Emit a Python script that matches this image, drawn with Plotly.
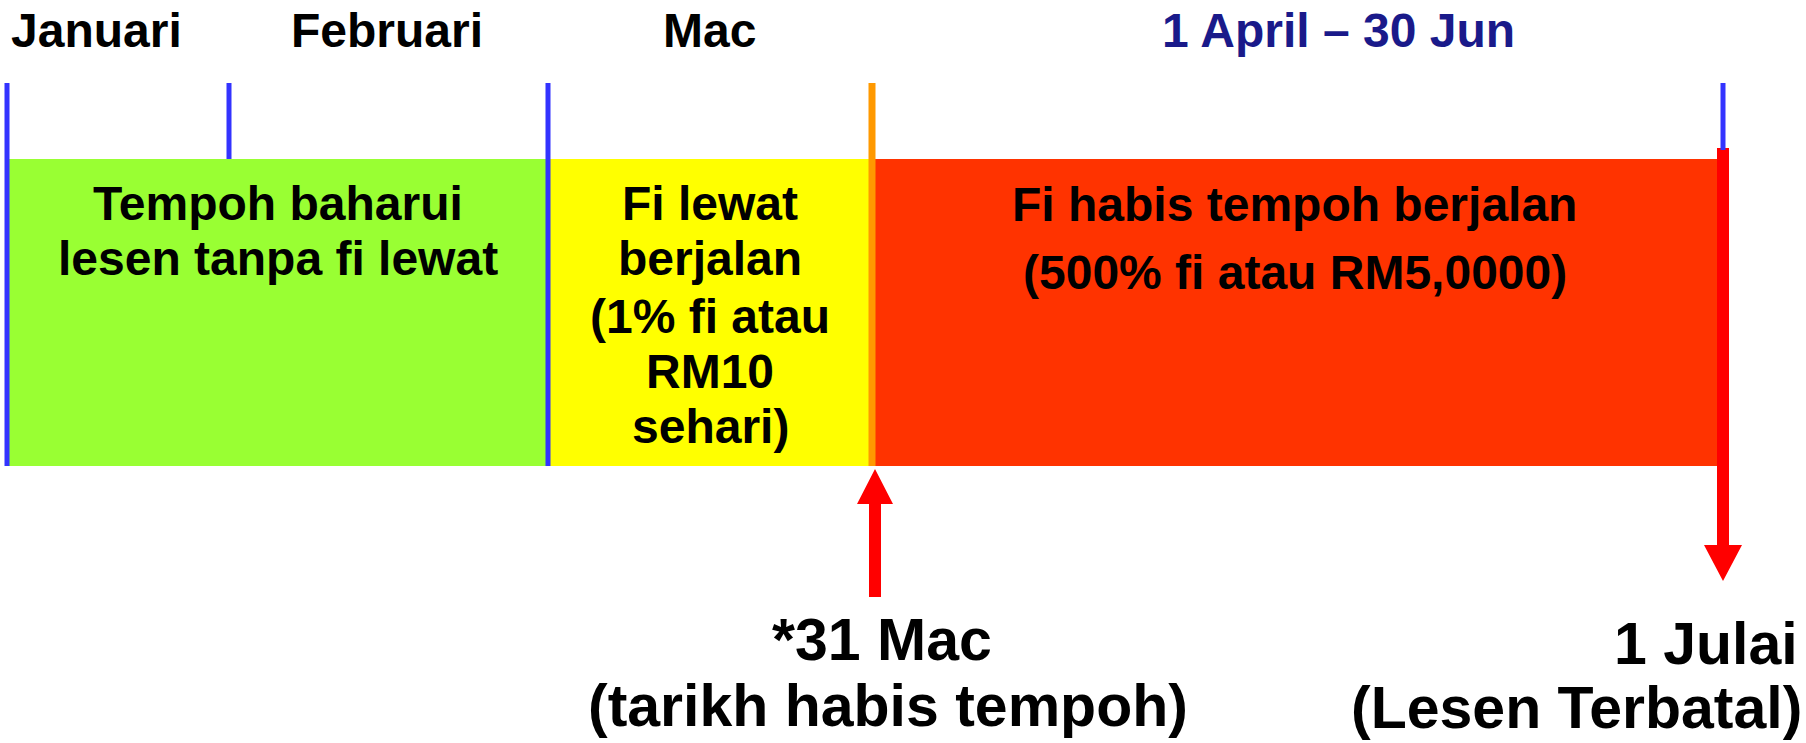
import plotly.graph_objects as go

# ---------------- data ----------------
month_labels = ["Januari", "Februari", "Mac", "1 April – 30 Jun"]
month_label_colors = ["#000000", "#000000", "#000000", "#1A1A8A"]

# schematic timeline positions of the boundaries (axis units)
boundary_pos = [7, 229, 548, 872, 1723]
boundary_kind = ["phase", "month", "phase", "expiry", "cancel"]

phase_start = [7, 548, 872]
phase_end = [548, 872, 1717]
phase_text = [
    ["Tempoh baharui", "lesen tanpa fi lewat"],
    ["Fi lewat", "berjalan", "(1% fi atau", "RM10", "sehari)"],
    ["Fi habis tempoh berjalan", "(500% fi atau RM5,0000)"],
]

event_pos = [875, 1723]
event_text = [["*31 Mac", "(tarikh habis tempoh)"], ["1 Julai", "(Lesen Terbatal)"]]

# ---------------- layout / style ----------------
W, H = 1806, 743
FONT = "Liberation Sans, Arial, sans-serif"
phase_colors = ["#99FF33", "#FFFF00", "#FF3300"]
boundary_colors = {"phase": "#3333FF", "month": "#3333FF", "expiry": "#FF9900", "cancel": "#3333FF"}
boundary_width = {"phase": 5, "month": 5, "expiry": 7, "cancel": 5}
ARROW = "#FF0000"
MAIN_SIZE = 48
EVENT_SIZE = 59

tick_top = 83
bar_top, bar_bot = 159, 466
header_y = 30
header_x = [96, 387, 709, 1338]
phase_line_y = [[203, 258], [203, 258, 316, 371, 426], [204, 272]]
event_line_y = [[640, 706], [644, 708]]

fig = go.Figure()

# phase bars
fig.add_trace(go.Bar(
    orientation="h",
    base=phase_start,
    x=[e - s for s, e in zip(phase_start, phase_end)],
    y=[(bar_top + bar_bot) / 2] * len(phase_start),
    width=bar_bot - bar_top,
    marker=dict(color=phase_colors, line=dict(width=0)),
    hoverinfo="skip",
    showlegend=False,
))

# boundary tick lines
for pos, kind in zip(boundary_pos, boundary_kind):
    if kind == "cancel":
        y1 = 150
    elif kind == "month":
        y1 = bar_top
    else:
        y1 = bar_bot
    fig.add_shape(type="line", x0=pos, x1=pos, y0=tick_top, y1=y1,
                  line=dict(color=boundary_colors[kind], width=boundary_width[kind]),
                  layer="above")

# arrows (polygons)
def arrow_poly(x, y_tail, y_base, y_tip, shaft=6, head=18):
    xs = [x - shaft, x - shaft, x - head, x, x + head, x + shaft, x + shaft, x - shaft]
    ys = [y_tail, y_base, y_base, y_tip, y_base, y_base, y_tail, y_tail]
    return xs, ys

# up arrow at expiry date
xs, ys = arrow_poly(event_pos[0], 597, 504, 469)
fig.add_trace(go.Scatter(x=xs, y=ys, fill="toself", fillcolor=ARROW, mode="lines",
                         line=dict(color=ARROW, width=0), hoverinfo="skip", showlegend=False))
# down arrow at cancellation
xs, ys = arrow_poly(event_pos[1], 148, 545, 581, head=19)
fig.add_trace(go.Scatter(x=xs, y=ys, fill="toself", fillcolor=ARROW, mode="lines",
                         line=dict(color=ARROW, width=0), hoverinfo="skip", showlegend=False))

# header labels
for lbl, x, c in zip(month_labels, header_x, month_label_colors):
    fig.add_annotation(x=x, y=header_y, text=lbl, showarrow=False, xanchor="center", yanchor="middle",
                       font=dict(family=FONT, size=MAIN_SIZE, color=c, weight="bold"))

# phase texts
for s, e, lines, ys_ in zip(phase_start, phase_end, phase_text, phase_line_y):
    for ln, yy in zip(lines, ys_):
        fig.add_annotation(x=(s + e) / 2, y=yy, text=ln, showarrow=False, xanchor="center", yanchor="middle",
                           font=dict(family=FONT, size=MAIN_SIZE, color="#000000", weight="bold"))

# event texts
ev_font = dict(family=FONT, size=EVENT_SIZE, color="#000000", weight="bold")
fig.add_annotation(x=882, y=event_line_y[0][0], text=event_text[0][0], showarrow=False,
                   xanchor="center", yanchor="middle", font=ev_font)
fig.add_annotation(x=888, y=event_line_y[0][1], text=event_text[0][1], showarrow=False,
                   xanchor="center", yanchor="middle", font=ev_font)
fig.add_annotation(x=1800, y=event_line_y[1][0], text=event_text[1][0], showarrow=False,
                   xanchor="right", yanchor="middle", font=ev_font)
fig.add_annotation(x=1804, y=event_line_y[1][1], text=event_text[1][1], showarrow=False,
                   xanchor="right", yanchor="middle", font=ev_font)

fig.update_layout(
    width=W, height=H,
    margin=dict(l=0, r=0, t=0, b=0, pad=0),
    paper_bgcolor="#FFFFFF", plot_bgcolor="#FFFFFF",
    barmode="overlay",
    xaxis=dict(range=[0, W], visible=False, fixedrange=True),
    yaxis=dict(range=[H, 0], visible=False, fixedrange=True),
    showlegend=False,
)

fig.write_html("out.html", config={"displayModeBar": False},
               post_script="document.body.style.margin='0';document.body.style.overflow='hidden';")
